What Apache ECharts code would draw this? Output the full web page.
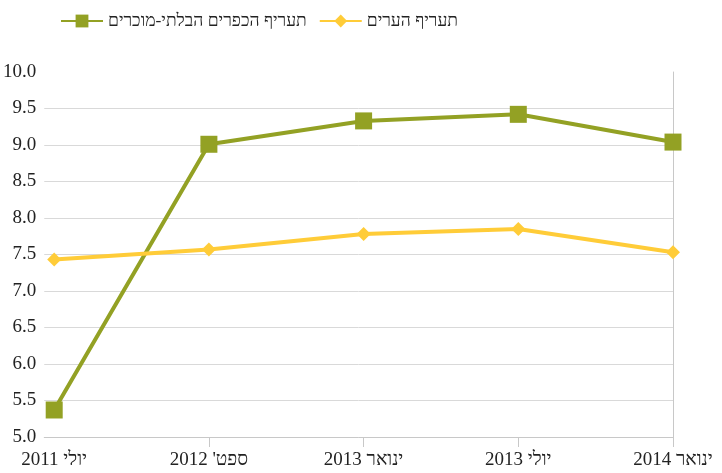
<!DOCTYPE html>
<html lang="he">
<head>
<meta charset="utf-8">
<style>
  html, body { margin: 0; padding: 0; background: #fff; }
  #chart { width: 722px; height: 473px; direction: rtl; }
</style>
<script src="https://cdn.jsdelivr.net/npm/echarts@6/dist/echarts.min.js"></script>
</head>
<body>
<div id="chart"></div>
<script>
// תאריכי המדידה
const periods = ['יולי 2011', "ספט' 2012", 'ינואר 2013', 'יולי 2013', 'ינואר 2014'];
// תעריף הכפרים הבלתי-מוכרים
const villageRate = [5.37, 9.01, 9.33, 9.42, 9.04];
// תעריף הערים
const cityRate = [7.43, 7.57, 7.78, 7.85, 7.53];

const villageName = 'תעריף הכפרים הבלתי-מוכרים';
const cityName = 'תעריף הערים';

const font = 'Liberation Serif, serif';

const chart = echarts.init(document.getElementById('chart'));

const toPoints = arr => arr.map((v, i) => [i, v]);

chart.setOption({
  animation: false,
  textStyle: { fontFamily: font },
  legend: {
    left: 55,
    top: 7,
    itemWidth: 42,
    itemHeight: 16,
    itemGap: 12,
    data: [villageName, cityName],
    textStyle: { fontFamily: font, fontSize: 17.5, color: '#222' }
  },
  grid: { left: 41, right: 49, top: 72, bottom: 36, containLabel: false },
  xAxis: {
    type: 'value',
    min: -10 / 155.5,
    max: periods.length - 1,
    splitLine: { show: false },
    axisLine: { show: true, lineStyle: { color: '#c8c8c8' } },
    axisTick: {
      show: true,
      length: 10,
      customValues: [1, 2, 3, 4],
      lineStyle: { color: '#c8c8c8' }
    },
    axisLabel: {
      customValues: [0, 1, 2, 3, 4],
      formatter: v => periods[Math.round(v)],
      margin: 14,
      fontFamily: font,
      fontSize: 19,
      color: '#222'
    }
  },
  yAxis: [{
    type: 'value',
    min: 5,
    max: 10,
    interval: 0.5,
    axisLine: { show: false },
    axisTick: { show: false },
    splitLine: { show: true, showMaxLine: false, lineStyle: { color: '#d9d9d9' } },
    axisLabel: {
      formatter: v => v.toFixed(1),
      margin: 8,
      fontFamily: font,
      fontSize: 19,
      color: '#222'
    }
  }, {
    type: 'value',
    position: 'right',
    min: 5,
    max: 10,
    axisLine: { show: true, lineStyle: { color: '#c8c8c8' } },
    axisTick: { show: false },
    axisLabel: { show: false },
    splitLine: { show: false }
  }],
  series: [{
    name: villageName,
    type: 'line',
    data: toPoints(villageRate),
    symbol: 'rect',
    symbolSize: 17,
    lineStyle: { width: 4, color: '#93a124' },
    itemStyle: { color: '#93a124' }
  }, {
    name: cityName,
    type: 'line',
    data: toPoints(cityRate),
    symbol: 'diamond',
    symbolSize: 14,
    lineStyle: { width: 4, color: '#ffcc38' },
    itemStyle: { color: '#ffcc38' }
  }]
});
</script>
</body>
</html>
